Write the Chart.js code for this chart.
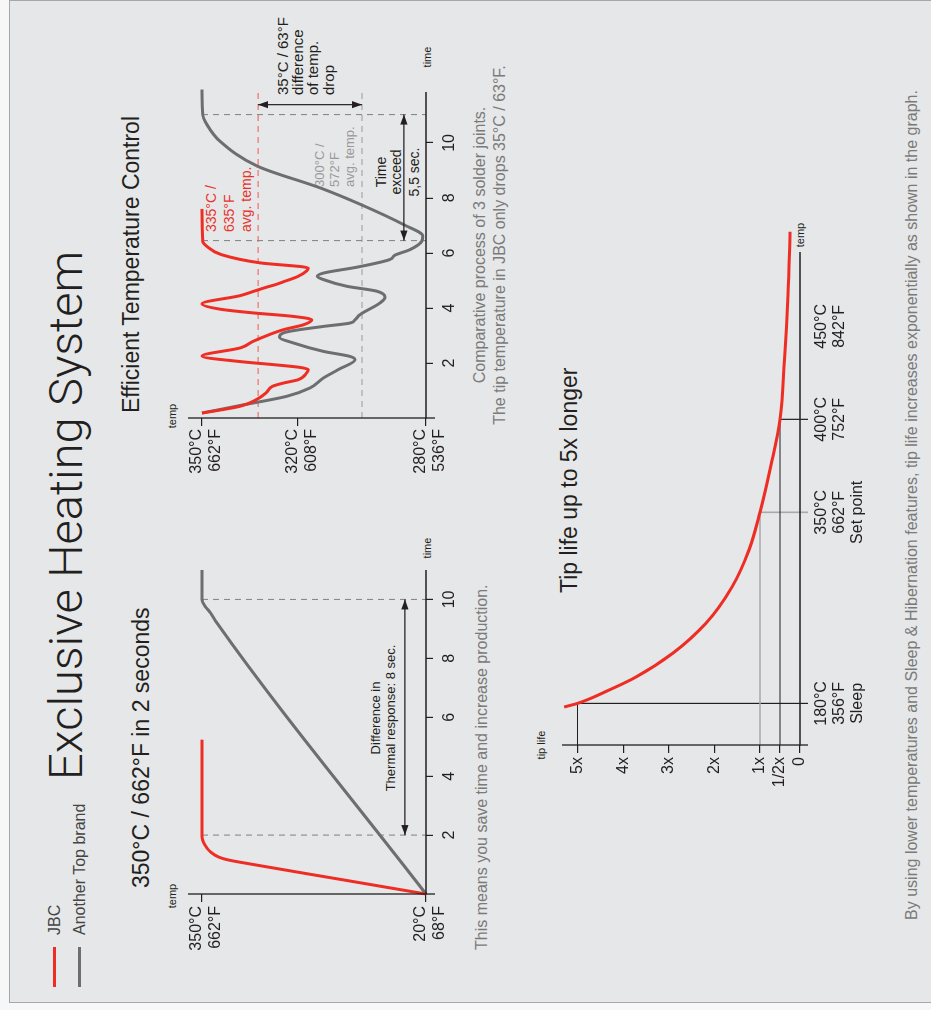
<!DOCTYPE html>
<html><head><meta charset="utf-8">
<script src="https://cdn.jsdelivr.net/npm/chart.js@4.4.1/dist/chart.umd.min.js"></script>
<style>
html,body{margin:0;padding:0;background:#f7f7f7;width:931px;height:1010px;overflow:hidden;}
#land{position:absolute;left:0;top:0;width:1010px;height:931px;transform-origin:0 0;transform:translate(0px,1010px) rotate(-90deg);background:#f7f7f7;font-family:'Liberation Sans',Arial,sans-serif;color:#231f20;}
#panel{position:absolute;left:7px;top:9px;width:1001px;height:930px;background:#e6e7e8;border:1px solid #a5a7aa;border-bottom:none;}
.t{position:absolute;white-space:nowrap;line-height:1;}
canvas{position:absolute;}
</style></head>
<body>
<div id="land">
  <div id="panel"></div>
  <!-- legend -->
  <div style="position:absolute;left:23px;top:53px;width:40px;height:3px;background:#ee2e24"></div>
  <div style="position:absolute;left:23px;top:78px;width:40px;height:3px;background:#6d6e70"></div>
  <div class="t" style="left:75px;top:46.5px;font-size:16px;color:#444">JBC</div>
  <div class="t" style="left:75px;top:72px;font-size:16px;color:#444">Another Top brand</div>
  <!-- main title -->
  <div class="t" style="left:230px;top:42px;font-family:Roboto,'Liberation Sans',sans-serif;font-weight:300;font-size:47px;color:#231f20">Exclusive Heating System</div>
  <!-- chart titles -->
  <div class="t" style="left:122px;top:130px;font-size:23px">350°C / 662°F in 2 seconds</div>
  <div class="t" style="left:597px;top:119.5px;font-size:23px">Efficient Temperature Control</div>
  <div class="t" style="left:417px;top:557.5px;font-size:23px">Tip life up to 5x longer</div>
  <!-- axis names -->
  <div class="t" style="left:94px;top:167px;width:40px;text-align:center;font-size:11px">temp</div>
  <div class="t" style="left:442px;top:422px;width:40px;text-align:center;font-size:11px">time</div>
  <div class="t" style="left:574px;top:167px;width:40px;text-align:center;font-size:11px">temp</div>
  <div class="t" style="left:933px;top:422px;width:40px;text-align:center;font-size:11px">time</div>
  <div class="t" style="left:240px;top:536px;width:50px;text-align:center;font-size:11px">tip life</div>
  <div class="t" style="left:755px;top:795px;width:40px;text-align:center;font-size:11px">temp</div>
  <!-- chart 1 annotation -->
  <div class="t" style="left:192px;top:369px;width:200px;text-align:center;font-size:13px">Difference in</div>
  <div class="t" style="left:192px;top:384px;width:200px;text-align:center;font-size:13px">Thermal response: 8 sec.</div>
  <!-- chart 2 annotations -->
  <div class="t" style="left:778px;top:204px;font-size:14px;color:#e8332a">335°C /</div>
  <div class="t" style="left:778px;top:221.5px;font-size:14px;color:#e8332a">635°F</div>
  <div class="t" style="left:778px;top:239px;font-size:14px;color:#e8332a">avg. temp.</div>
  <div class="t" style="left:823px;top:313px;font-size:13px;color:#9a9a9a">300°C /</div>
  <div class="t" style="left:823px;top:328px;font-size:13px;color:#9a9a9a">572°F</div>
  <div class="t" style="left:823px;top:343px;font-size:13px;color:#9a9a9a">avg. temp.</div>
  <div class="t" style="left:788px;top:374px;width:100px;text-align:center;font-size:14px">Time</div>
  <div class="t" style="left:788px;top:389px;width:100px;text-align:center;font-size:14px">exceed</div>
  <div class="t" style="left:788px;top:407px;width:100px;text-align:center;font-size:14px">5,5 sec.</div>
  <div class="t" style="left:915px;top:275px;font-size:15px">35°C / 63°F</div>
  <div class="t" style="left:915px;top:290px;font-size:15px">difference</div>
  <div class="t" style="left:915px;top:305px;font-size:15px">of temp.</div>
  <div class="t" style="left:915px;top:321px;font-size:15px">drop</div>
  <!-- captions -->
  <div class="t" style="left:60px;top:473.5px;font-size:16px;color:#7a7a7a">This means you save time and increase production.</div>
  <div class="t" style="left:565px;top:471.5px;width:400px;text-align:center;font-size:16px;color:#7a7a7a">Comparative process of 3 solder joints.</div>
  <div class="t" style="left:565px;top:491.5px;width:400px;text-align:center;font-size:16px;color:#7a7a7a">The tip temperature in JBC only drops 35°C / 63°F.</div>
  <div class="t" style="left:55px;top:903.5px;width:900px;text-align:center;font-size:16px;color:#7a7a7a">By using lower temperatures and Sleep &amp; Hibernation features, tip life increases exponentially as shown in the graph.</div>

  <canvas id="c1" width="460" height="320" style="left:20px;top:160px"></canvas>
  <canvas id="c2" width="460" height="320" style="left:500px;top:160px"></canvas>
  <canvas id="c3" width="600" height="340" style="left:200px;top:530px"></canvas>
</div>
<script>
// ---------- data: chart 1 (heat-up) ----------
const heatTicksX = [2, 4, 6, 8, 10];
const heatTicksY = [20, 350];
const heatLabelsY = [['20°C', '68°F'], ['350°C', '662°F']];
const heatTimeJBC = [0, 0.5, 1.0, 1.16, 1.25, 1.44, 1.66, 1.95, 5.24];
const heatTempJBC = [20, 147, 274, 312, 325, 338, 345.6, 350, 350];
const heatTimeOther = [0, 9.2, 9.56, 9.77, 10, 11];
const heatTempOther = [20, 328, 338, 345.6, 350, 350];
const heatMarks = [2, 10];
const heatArrowTemp = 51;

// ---------- data: chart 2 (temperature control) ----------
const ctrlTicksX = [2, 4, 6, 8, 10];
const ctrlTicksY = [280, 320, 350];
const ctrlLabelsY = [['280°C', '536°F'], ['320°C', '608°F'], ['350°C', '662°F']];
const ctrlTimeJBC = [0.18,0.43,0.67,0.91,1.15,1.27,1.39,1.64,1.76,1.84,1.94,2.05,2.25,2.55,2.79,3.03,3.21,3.39,3.57,3.7,3.82,3.95,4.15,4.45,4.6,4.75,4.85,4.95,5.15,5.35,5.45,5.64,5.94,6.24,6.42,7.6];
const ctrlTempJBC = [350,338,333,330,328,324.6,320,317.3,316.8,319.4,327.7,338,350,338,334,329,324.6,318.3,315.7,322,334,344,350,338,334,330,327,324.6,320,317.3,316.8,331.9,344,348.5,349.8,350];
const ctrlTimeOther = [0.18,0.48,0.79,1.09,1.45,1.76,2.12,2.24,2.42,2.73,2.93,3.13,3.33,3.45,3.57,3.76,4.18,4.39,4.61,4.79,5.03,5.15,5.27,5.48,5.76,5.92,6.12,6.43,6.61,7.03,7.76,8.36,9.15,10.06,10.67,11.03,11.94];
const ctrlTempOther = [350,337,323.5,316.3,312.1,307.4,302.2,303.8,312,321.5,325.8,323.5,312,303.8,302.2,300.6,294.4,292.8,295.4,304.8,312,314,312,301.7,291.3,289.7,285,281.3,281,287,300.4,313,332.6,344.4,348.5,349.8,350];
const ctrlAvgJBC = 332.5;
const ctrlAvgOther = 300;
const ctrlMarks = [6.45, 11.03];
const ctrlDropArrowTime = 11.39;
const ctrlExceedArrowTemp = 286.9;

// ---------- data: chart 3 (tip life) ----------
const tipTicksX = [180, 350, 400, 450];
const tipLabelsX = [['180°C', '356°F', 'Sleep'], ['350°C', '662°F', 'Set point'], ['400°C', '752°F'], ['450°C', '842°F']];
const tipTicksY = [0, 0.5, 1, 2, 3, 4, 5];
const tipLabelsY = ['0', '1/2x', '1x', '2x', '3x', '4x', '5x'];
const tipTemps = [176.8, 180, 191.9, 203.5, 224.8, 251.5, 283.6, 316.5, 350, 375.4, 400, 432, 467, 500.9];
const tipLife  = [5.295, 5.0, 4.309, 3.718, 2.907, 2.183, 1.614, 1.241, 1.0, 0.725, 0.5, 0.3875, 0.30, 0.25];
const tipMarksT = [180, 350, 400];
const tipMarksL = [5, 1, 0.5];
const tipMarkColors = ['#231f20', '#a9a9a9', '#231f20'];

// ---------- styles ----------
const RED = '#ee2e24', GRAY = '#6d6e70', INK = '#231f20';
Chart.defaults.font.family = "'Liberation Sans', Arial, sans-serif";
Chart.defaults.color = INK;

// piecewise-linear scale (the original artwork uses a broken axis)
class KnotScale extends Chart.LinearScale {
  static id = 'knot';
  static defaults = {};
  _frac(v) {
    const k = this.options.knots;
    let i = 1;
    while (i < k.length - 1 && v > k[i][0]) i++;
    const a = k[i - 1], b = k[i];
    return a[1] + (v - a[0]) * (b[1] - a[1]) / (b[0] - a[0]);
  }
  getPixelForValue(v) {
    if (v === null || v === undefined || isNaN(v)) return NaN;
    return this.getPixelForDecimal(this._frac(v));
  }
  getValueForPixel(p) {
    const f = this.getDecimalForPixel(p);
    const k = this.options.knots;
    let i = 1;
    while (i < k.length - 1 && f > k[i][1]) i++;
    const a = k[i - 1], b = k[i];
    return a[0] + (f - a[1]) * (b[0] - a[0]) / (b[1] - a[1]);
  }
}
Chart.register(KnotScale);

const pts = (xs, ys) => xs.map((x, i) => ({ x, y: ys[i] }));

function line(ctx, x1, y1, x2, y2, color, width, dash) {
  ctx.save();
  ctx.strokeStyle = color; ctx.lineWidth = width; ctx.setLineDash(dash || []);
  ctx.beginPath(); ctx.moveTo(x1, y1); ctx.lineTo(x2, y2); ctx.stroke();
  ctx.restore();
}
function head(ctx, x, y, ang) {
  const L = 10, W = 3.6;
  ctx.beginPath();
  ctx.moveTo(x, y);
  ctx.lineTo(x - L * Math.cos(ang) + W * Math.sin(ang), y - L * Math.sin(ang) - W * Math.cos(ang));
  ctx.lineTo(x - L * Math.cos(ang) - W * Math.sin(ang), y - L * Math.sin(ang) + W * Math.cos(ang));
  ctx.closePath(); ctx.fill();
}
function arrow2(ctx, x1, y1, x2, y2) {
  ctx.save();
  ctx.fillStyle = INK;
  line(ctx, x1, y1, x2, y2, INK, 1.2);
  const ang = Math.atan2(y2 - y1, x2 - x1);
  head(ctx, x2, y2, ang);
  head(ctx, x1, y1, ang + Math.PI);
  ctx.restore();
}
function axes(chart, overshoot) {
  const { ctx, chartArea: a } = chart;
  line(ctx, a.left, a.top, a.left, a.bottom + overshoot, INK, 1.3);
  line(ctx, a.left - 0.6, a.bottom, a.right, a.bottom, INK, 1.3);
}

function baseOpts(pad) {
  return {
    responsive: false, animation: false, events: [],
    layout: { padding: pad },
    plugins: { legend: { display: false }, tooltip: { enabled: false } },
    elements: { point: { radius: 0 }, line: { borderWidth: 3, cubicInterpolationMode: 'monotone' } }
  };
}
function tickAxis(opts) {
  return Object.assign({
    border: { display: false },
    grid: { display: true, drawOnChartArea: false, drawTicks: true, tickLength: 8, color: INK, lineWidth: 1.2 },
  }, opts);
}

// ---------- chart 1 ----------
{
  const o = baseOpts({ left: 0, top: 28, right: 40, bottom: 0 });
  o.scales = {
    x: tickAxis({ type: 'linear', min: 0, max: 11,
      afterFit: s => { s.height = 54; },
      afterBuildTicks: s => { s.ticks = heatTicksX.map(v => ({ value: v })); },
      grid: { display: true, drawOnChartArea: false, tickLength: 7, color: INK, lineWidth: 1.2 },
      ticks: { autoSkip: false, maxRotation: 0, padding: 7, font: { size: 16 }, callback: v => String(v) } }),
    y: tickAxis({ type: 'linear', min: 20, max: 370.6,
      afterFit: s => { s.width = 96; },
      afterBuildTicks: s => { s.ticks = heatTicksY.map(v => ({ value: v })); },
      ticks: { autoSkip: false, padding: 4, labelOffset: 4, font: { size: 16, lineHeight: 1.15 },
        callback: v => heatLabelsY[heatTicksY.indexOf(v)] } })
  };
  new Chart(document.getElementById('c1'), {
    type: 'line',
    data: { datasets: [
      { label: 'JBC', data: pts(heatTimeJBC, heatTempJBC), borderColor: RED, clip: false },
      { label: 'Another Top brand', data: pts(heatTimeOther, heatTempOther), borderColor: GRAY, clip: false }
    ] },
    options: o,
    plugins: [{
      id: 'ann1',
      beforeDatasetsDraw(chart) {
        const { ctx, scales: { x, y } } = chart;
        heatMarks.forEach(t => line(ctx, x.getPixelForValue(t), y.getPixelForValue(350), x.getPixelForValue(t), y.getPixelForValue(20), '#8a8a8a', 1.1, [6, 5]));
      },
      afterDatasetsDraw(chart) {
        const { ctx, scales: { x, y } } = chart;
        axes(chart, 9);
        const yy = y.getPixelForValue(heatArrowTemp);
        arrow2(ctx, x.getPixelForValue(heatMarks[0]), yy, x.getPixelForValue(heatMarks[1]), yy);
      }
    }]
  });
}

// ---------- chart 2 ----------
{
  const o = baseOpts({ left: 0, top: 28, right: 42, bottom: 0 });
  o.scales = {
    x: tickAxis({ type: 'linear', min: 0, max: 11.85,
      afterFit: s => { s.height = 54; },
      afterBuildTicks: s => { s.ticks = ctrlTicksX.map(v => ({ value: v })); },
      grid: { display: true, drawOnChartArea: false, tickLength: 7, color: INK, lineWidth: 1.2 },
      ticks: { autoSkip: false, maxRotation: 0, padding: 7, font: { size: 16 }, callback: v => String(v) } }),
    y: tickAxis({ type: 'linear', min: 280, max: 354.4,
      afterFit: s => { s.width = 92; },
      afterBuildTicks: s => { s.ticks = ctrlTicksY.map(v => ({ value: v })); },
      ticks: { autoSkip: false, padding: 3, labelOffset: 4, font: { size: 16, lineHeight: 1.15 },
        callback: v => ctrlLabelsY[ctrlTicksY.indexOf(v)] } })
  };
  new Chart(document.getElementById('c2'), {
    type: 'line',
    data: { datasets: [
      { label: 'JBC', data: pts(ctrlTimeJBC, ctrlTempJBC), borderColor: RED, clip: false },
      { label: 'Another Top brand', data: pts(ctrlTimeOther, ctrlTempOther), borderColor: GRAY, clip: false }
    ] },
    options: o,
    plugins: [{
      id: 'ann2',
      beforeDatasetsDraw(chart) {
        const { ctx, chartArea: a, scales: { x, y } } = chart;
        line(ctx, a.left, y.getPixelForValue(ctrlAvgJBC), a.right + 2, y.getPixelForValue(ctrlAvgJBC), '#f0766e', 1.2, [6, 5]);
        line(ctx, a.left, y.getPixelForValue(ctrlAvgOther), a.right + 2, y.getPixelForValue(ctrlAvgOther), '#9a9a9a', 1.2, [6, 5]);
        ctrlMarks.forEach(t => line(ctx, x.getPixelForValue(t), y.getPixelForValue(350), x.getPixelForValue(t), y.getPixelForValue(280), '#8a8a8a', 1.1, [6, 5]));
      },
      afterDatasetsDraw(chart) {
        const { ctx, scales: { x, y } } = chart;
        axes(chart, 9);
        const xx = x.getPixelForValue(ctrlDropArrowTime);
        arrow2(ctx, xx, y.getPixelForValue(ctrlAvgJBC), xx, y.getPixelForValue(ctrlAvgOther));
        const yy = y.getPixelForValue(ctrlExceedArrowTemp);
        arrow2(ctx, x.getPixelForValue(ctrlMarks[0]), yy, x.getPixelForValue(ctrlMarks[1]), yy);
      }
    }]
  });
}

// ---------- chart 3 ----------
{
  const o = baseOpts({ left: 0, top: 32, right: 42, bottom: 0 });
  o.scales = {
    x: { type: 'knot', min: 143, max: 490, knots: [[143, 0], [350, 0.472], [490, 1]],
      afterFit: s => { s.height = 70; },
      afterBuildTicks: s => { s.ticks = tipTicksX.map(v => ({ value: v })); },
      border: { display: false },
      grid: { display: false, drawTicks: false },
      ticks: { autoSkip: false, maxRotation: 0, padding: 12, font: { size: 16, lineHeight: 1.15 },
        callback: v => tipLabelsX[tipTicksX.indexOf(v)] } },
    y: tickAxis({ type: 'knot', min: 0, max: 5.34, knots: [[0, 0], [1, 0.168], [5.34, 1]],
      afterFit: s => { s.width = 65; },
      afterBuildTicks: s => { s.ticks = tipTicksY.map(v => ({ value: v })); },
      ticks: { autoSkip: false, padding: 4, font: { size: 16 },
        callback: v => tipLabelsY[tipTicksY.indexOf(v)] } })
  };
  new Chart(document.getElementById('c3'), {
    type: 'line',
    data: { datasets: [
      { label: 'Tip life', data: pts(tipTemps, tipLife), borderColor: RED, clip: false }
    ] },
    options: o,
    plugins: [{
      id: 'ann3',
      beforeDatasetsDraw(chart) {
        const { ctx, chartArea: a, scales: { x, y } } = chart;
        tipMarksT.forEach((t, i) => {
          const px = x.getPixelForValue(t), py = y.getPixelForValue(tipMarksL[i]);
          const w = tipMarkColors[i] === '#231f20' ? 1.2 : 1.6;
          line(ctx, a.left, py, px, py, tipMarkColors[i], w);
          line(ctx, px, py, px, a.bottom + 8, tipMarkColors[i], w);
        });
      },
      afterDatasetsDraw(chart) { axes(chart, 8); }
    }]
  });
}
</script>
</body></html>
